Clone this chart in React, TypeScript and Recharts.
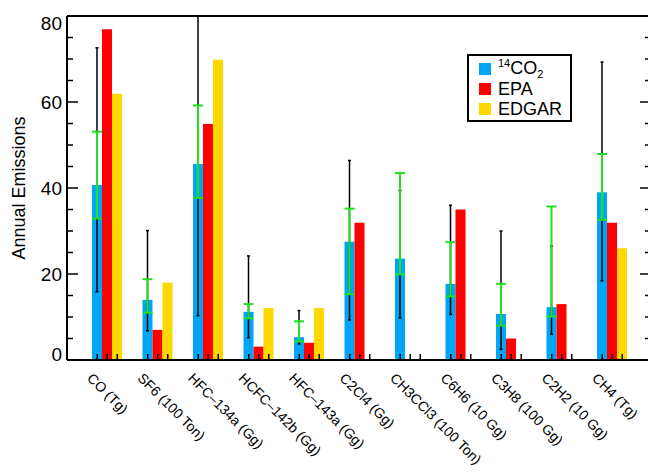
import { Bar, BarChart, ErrorBar, Legend, ReferenceLine, XAxis, YAxis } from "recharts";

const FONT = "'Liberation Sans', Arial, Helvetica, sans-serif";

const categories = [
  "CO (Tg)",
  "SF6 (100 Ton)",
  "HFC–134a (Gg)",
  "HCFC–142b (Gg)",
  "HFC–143a (Gg)",
  "C2Cl4 (Gg)",
  "CH3CCl3 (100 Ton)",
  "C6H6 (10 Gg)",
  "C3H8 (100 Gg)",
  "C2H2 (10 Gg)",
  "CH4 (Tg)",
];

// bar heights
const co2Values = [40.7, 14.0, 45.6, 11.2, 5.3, 27.5, 23.6, 17.7, 10.7, 12.3, 39.0];
const epaValues = [76.9, 7.0, 54.9, 3.1, 4.0, 31.9, null, 35.0, 5.0, 13.0, 31.9];
const edgarValues = [61.9, 18.0, 69.8, 12.1, 12.1, null, null, null, null, null, 26.0];

// black (total) and green ranges on the 14CO2 bars
const totalLow = [15.9, 6.8, 10.3, 5.2, 3.7, 9.3, 9.8, 10.6, 2.5, 6.0, 18.4];
const totalHigh = [72.6, 30.1, 80, 24.2, 11.5, 46.4, 39.4, 36.0, 30.0, 26.5, 69.3];
const greenLow = [32.9, 11.0, 37.7, 9.7, 4.3, 15.3, 19.9, 14.8, 8.0, 10.1, 32.6];
const greenHigh = [53.1, 18.8, 59.2, 13.0, 9.0, 35.2, 43.5, 27.4, 17.7, 35.7, 47.9];

const yTicks = [0, 5, 10, 15, 20, 25, 30, 35, 40, 45, 50, 55, 60, 65, 70, 75, 80];

const series = [
  { key: "co2", name: "14CO2", color: "#00A6F6" },
  { key: "epa", name: "EPA", color: "#FF0000" },
  { key: "edgar", name: "EDGAR", color: "#FFD800" },
];
const GREEN = "#20E020";

const rows = categories.map((name, i) => ({
  name,
  co2: co2Values[i],
  epa: epaValues[i],
  edgar: edgarValues[i],
  totalErr: [co2Values[i] - totalLow[i], totalHigh[i] - co2Values[i]],
  greenErr: [co2Values[i] - greenLow[i], greenHigh[i] - co2Values[i]],
}));

function LeftTick({ x, y, payload }: any) {
  const v = payload.value;
  const major = v % 20 === 0;
  const shift = v === 0 ? -6 : v === 80 ? 7 : 0;
  return (
    <g>
      <line x1={x} y1={y} x2={x + (major ? 11 : 6)} y2={y} stroke="#000" strokeWidth={1.5} />
      {major && (
        <text x={x - 5} y={y + shift} dy="0.36em" textAnchor="end" fontSize={19} fill="#000" fontFamily={FONT}>
          {v}
        </text>
      )}
    </g>
  );
}

function RightTick({ x, y, payload }: any) {
  const major = payload.value % 20 === 0;
  return <line x1={x} y1={y} x2={x - (major ? 11 : 6)} y2={y} stroke="#000" strokeWidth={1.5} />;
}

// three small marks (one per bar slot) plus the slanted category name
function CategoryTick({ x, y, payload }: any) {
  const tx = x - 21;
  const ty = y + 19;
  return (
    <g>
      {[-10, 0, 10].map((d) => (
        <line key={d} x1={x + d} y1={y} x2={x + d} y2={y - 6} stroke="#000" strokeWidth={1.5} />
      ))}
      <text
        x={tx}
        y={ty}
        textAnchor="start"
        fontSize={14}
        fill="#000"
        fontFamily={FONT}
        transform={`rotate(45, ${tx}, ${ty})`}
      >
        {payload.value}
      </text>
    </g>
  );
}

function YLabel({ viewBox }: any) {
  const cx = 25;
  const cy = viewBox.y + viewBox.height / 2;
  return (
    <text x={cx} y={cy} textAnchor="middle" fontSize={18} fill="#000" fontFamily={FONT} transform={`rotate(-90, ${cx}, ${cy})`}>
      Annual Emissions
    </text>
  );
}

function legendText(name: string) {
  if (name === "14CO2") {
    return (
      <span>
        <span style={{ fontSize: 11, position: "relative", top: -7 }}>14</span>CO
        <span style={{ fontSize: 11, position: "relative", top: 4 }}>2</span>
      </span>
    );
  }
  return name;
}

function LegendBox() {
  return (
    <div
      style={{
        width: 105,
        height: 68,
        boxSizing: "border-box",
        border: "2px solid #000",
        background: "#fff",
        paddingTop: 3,
        fontFamily: FONT,
        fontSize: 18,
        color: "#000",
      }}
    >
      {series.map((s) => (
        <div key={s.key} style={{ display: "flex", alignItems: "center", height: 20, lineHeight: "20px" }}>
          <span style={{ width: 12, height: 12, marginLeft: 10, marginRight: 7, background: s.color }} />
          {legendText(s.name)}
        </div>
      ))}
    </div>
  );
}

export default function App() {
  return (
    <div style={{ position: "absolute", left: 0, top: 0, width: 648, height: 472, overflow: "hidden", background: "#fff" }}>
      <BarChart
        width={660}
        height={472}
        data={rows}
        margin={{ top: 16, right: 0, bottom: 0, left: 0 }}
        barGap={0}
        barSize={10}
        style={{ fontFamily: FONT }}
      >
        <YAxis
          yAxisId="left"
          width={67}
          domain={[0, 80]}
          allowDataOverflow
          ticks={yTicks}
          interval={0}
          tickSize={0}
          tickMargin={0}
          tickLine={false}
          axisLine={{ stroke: "#000", strokeWidth: 2 }}
          tick={<LeftTick />}
          label={<YLabel />}
        />
        <YAxis
          yAxisId="right"
          orientation="right"
          width={9}
          domain={[0, 80]}
          allowDataOverflow
          ticks={yTicks}
          interval={0}
          tickSize={0}
          tickMargin={0}
          tickLine={false}
          axisLine={{ stroke: "#000", strokeWidth: 2 }}
          tick={<RightTick />}
        />
        <Legend
          layout="vertical"
          align="center"
          verticalAlign="middle"
          wrapperStyle={{ left: 467, top: 54, width: 105, height: 68 }}
          content={<LegendBox />}
        />
        {series.map((s) => (
          <Bar
            key={s.key}
            xAxisId="bars"
            yAxisId="left"
            dataKey={s.key}
            name={s.name}
            fill={s.color}
            isAnimationActive={false}
          >
            {s.key === "co2" && <ErrorBar dataKey="totalErr" direction="y" width={1.5} stroke="#000" strokeWidth={1.5} />}
            {s.key === "co2" && <ErrorBar dataKey="greenErr" direction="y" width={5} stroke={GREEN} strokeWidth={2} />}
          </Bar>
        ))}
        <XAxis
          xAxisId="bars"
          dataKey="name"
          height={112}
          padding={{ left: 15, right: 13.5 }}
          interval={0}
          tickSize={0}
          tickMargin={0}
          tickLine={false}
          axisLine={{ stroke: "#000", strokeWidth: 2 }}
          tick={<CategoryTick />}
        />
        <ReferenceLine xAxisId="bars" yAxisId="left" y={80} stroke="#000" strokeWidth={2} />
      </BarChart>
    </div>
  );
}
